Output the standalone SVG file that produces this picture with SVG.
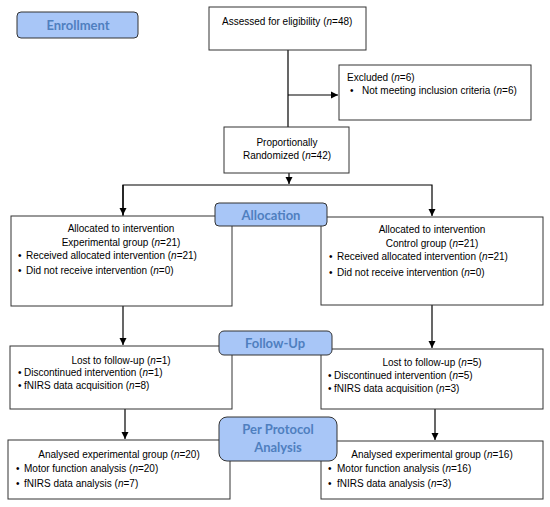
<svg xmlns="http://www.w3.org/2000/svg" width="550" height="507" viewBox="0 0 550 507">
<style>
.box{fill:#fff;stroke:#333;stroke-width:1}
.stage{fill:#a8c6f7;stroke:#333;stroke-width:1}
.st{font-family:"Lato","Open Sans",sans-serif;font-weight:bold;font-size:13px;fill:#4f7fbf;text-anchor:middle}
.t{font-family:"Liberation Sans",Arial,sans-serif;font-size:10px;fill:#000}
.c{text-anchor:middle}
.ln{stroke:#000;stroke-width:1.2;fill:none}
</style>
<defs>
<marker id="ah" markerWidth="8" markerHeight="8" refX="7" refY="4" orient="auto" markerUnits="userSpaceOnUse">
<path d="M0,0.5 L7,4 L0,7.5 Z" fill="#000"/>
</marker>
</defs>
<g id="connectors">
<path class="ln" d="M288,50 V127"/>
<path class="ln" d="M288,95 H338" marker-end="url(#ah)"/>
<path class="ln" d="M289,173 V184" marker-end="url(#ah)"/>
<path class="ln" d="M123,216 V185 H432 V216" marker-end="url(#ah)"/>
<path class="ln" d="M123,185 V215" marker-end="url(#ah)"/>
<path class="ln" d="M123,306 V345" marker-end="url(#ah)"/>
<path class="ln" d="M432,305 V348" marker-end="url(#ah)"/>
<path class="ln" d="M125,409 V439" marker-end="url(#ah)"/>
<path class="ln" d="M435,409 V440" marker-end="url(#ah)"/>
</g>
<g id="assessed">
<rect class="box" x="209" y="7" width="157" height="43"/>
<text class="t" x="222" y="25">Assessed for eligibility (<tspan font-style="italic">n</tspan>=48)</text>
</g>
<g id="excluded">
<rect class="box" x="339" y="65" width="192" height="55"/>
<text class="t" x="347" y="81">Excluded (<tspan font-style="italic">n</tspan>=6)</text>
<text class="t" x="350" y="94">•</text>
<text class="t" x="362" y="94">Not meeting inclusion criteria (<tspan font-style="italic">n</tspan>=6)</text>
</g>
<g id="randomized">
<rect class="box" x="224" y="127" width="125" height="46"/>
<text class="t c" x="287" y="146">Proportionally</text>
<text class="t c" x="287" y="159">Randomized (<tspan font-style="italic">n</tspan>=42)</text>
</g>
<g id="alloc-exp">
<rect class="box" x="11" y="216" width="221" height="90"/>
<text class="t c" x="121" y="232">Allocated to intervention</text>
<text class="t c" x="121" y="246">Experimental group (<tspan font-style="italic">n</tspan>=21)</text>
<text class="t" x="18" y="259">•</text>
<text class="t" x="26" y="259">Received allocated intervention (<tspan font-style="italic">n</tspan>=21)</text>
<text class="t" x="18" y="274">•</text>
<text class="t" x="26" y="274">Did not receive intervention (<tspan font-style="italic">n</tspan>=0)</text>
</g>
<g id="alloc-ctrl">
<rect class="box" x="321" y="217" width="222" height="88"/>
<text class="t c" x="432" y="233">Allocated to intervention</text>
<text class="t c" x="432" y="247">Control group (<tspan font-style="italic">n</tspan>=21)</text>
<text class="t" x="329" y="260">•</text>
<text class="t" x="337" y="260">Received allocated intervention (<tspan font-style="italic">n</tspan>=21)</text>
<text class="t" x="329" y="276">•</text>
<text class="t" x="337" y="276">Did not receive intervention (<tspan font-style="italic">n</tspan>=0)</text>
</g>
<g id="follow-exp">
<rect class="box" x="10" y="346" width="222" height="63"/>
<text class="t c" x="121" y="364">Lost to follow-up (<tspan font-style="italic">n</tspan>=1)</text>
<text class="t" x="18" y="376">•</text>
<text class="t" x="24" y="376">Discontinued intervention (<tspan font-style="italic">n</tspan>=1)</text>
<text class="t" x="18" y="389">•</text>
<text class="t" x="24" y="389">fNIRS data acquisition (<tspan font-style="italic">n</tspan>=8)</text>
</g>
<g id="follow-ctrl">
<rect class="box" x="321" y="349" width="222" height="60"/>
<text class="t c" x="432" y="366">Lost to follow-up (<tspan font-style="italic">n</tspan>=5)</text>
<text class="t" x="328" y="379">•</text>
<text class="t" x="334" y="379">Discontinued intervention (<tspan font-style="italic">n</tspan>=5)</text>
<text class="t" x="328" y="392">•</text>
<text class="t" x="334" y="392">fNIRS data acquisition (<tspan font-style="italic">n</tspan>=3)</text>
</g>
<g id="analysis-exp">
<rect class="box" x="8" y="440" width="222" height="59"/>
<text class="t c" x="119" y="458">Analysed experimental group (<tspan font-style="italic">n</tspan>=20)</text>
<text class="t" x="16" y="472">•</text>
<text class="t" x="24" y="472">Motor function analysis (<tspan font-style="italic">n</tspan>=20)</text>
<text class="t" x="16" y="487">•</text>
<text class="t" x="24" y="487">fNIRS data analysis (<tspan font-style="italic">n</tspan>=7)</text>
</g>
<g id="analysis-ctrl">
<rect class="box" x="321" y="441" width="222" height="58"/>
<text class="t c" x="432" y="458">Analysed experimental group (<tspan font-style="italic">n</tspan>=16)</text>
<text class="t" x="328" y="472">•</text>
<text class="t" x="337" y="472">Motor function analysis (<tspan font-style="italic">n</tspan>=16)</text>
<text class="t" x="328" y="487">•</text>
<text class="t" x="337" y="487">fNIRS data analysis (<tspan font-style="italic">n</tspan>=3)</text>
</g>
<g id="stage-enrollment">
<rect class="stage" x="17" y="12" width="121" height="26" rx="4"/>
<text class="st" x="78" y="30">Enrollment</text>
</g>
<g id="stage-allocation">
<rect class="stage" x="215" y="203" width="112" height="23" rx="4"/>
<text class="st" x="271" y="220">Allocation</text>
</g>
<g id="stage-followup">
<rect class="stage" x="219" y="331" width="113" height="24" rx="5"/>
<text class="st" x="275" y="348">Follow-Up</text>
</g>
<g id="stage-analysis">
<rect class="stage" x="219" y="417" width="118" height="44" rx="8"/>
<text class="st" x="278" y="434">Per Protocol</text>
<text class="st" x="278" y="452">Analysis</text>
</g>
</svg>
